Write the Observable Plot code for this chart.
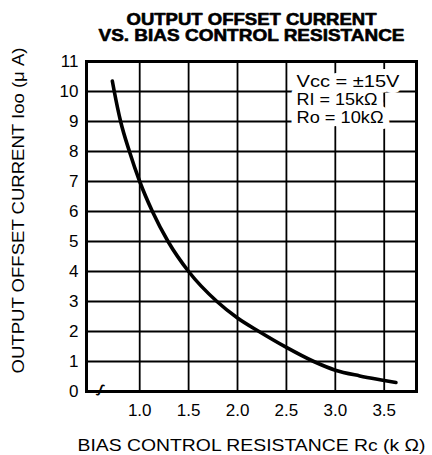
<!DOCTYPE html>
<html>
<head>
<meta charset="utf-8">
<script src="https://cdn.jsdelivr.net/npm/d3@7"></script>
<script src="https://cdn.jsdelivr.net/npm/@observablehq/plot@0.6"></script>
<style>
  html, body { margin: 0; padding: 0; background: #fff; }
  svg { display: block; }
</style>
</head>
<body>
<div id="chart"></div>
<script>
// Data
const rc  = [0.72, 0.74, 0.805, 0.895, 1.0, 1.13, 1.29, 1.5, 1.79, 2.0, 2.22, 2.5, 2.78, 3.0, 3.25, 3.5, 3.62];
const ioo = [10.35, 10.0, 9.0, 8.0, 7.0, 6.0, 5.0, 4.0, 3.0, 2.45, 2.0, 1.47, 1.0, 0.71, 0.52, 0.37, 0.3];

const xTicks = [1.0, 1.5, 2.0, 2.5, 3.0, 3.5];
const yTicks = [0, 1, 2, 3, 4, 5, 6, 7, 8, 9, 10, 11];
const yGrid  = [1, 2, 3, 4, 5, 6, 7, 8, 9, 10];

const titleLines = ["OUTPUT OFFSET CURRENT", "VS. BIAS CONTROL RESISTANCE"];
const xTitle = "BIAS CONTROL RESISTANCE Rc (k Ω)";
const yTitle = "OUTPUT OFFSET CURRENT Ioo (μ A)";
const notes = ["Vcc = ±15V", "RI = 15kΩ", "Ro = 10kΩ"];

const data = rc.map((x, i) => ({x, y: ioo[i]}));
const font = "'Liberation Sans', Arial, Helvetica, sans-serif";

const chart = Plot.plot({
  width: 432,
  height: 455,
  marginLeft: 86,
  marginRight: 16,
  marginTop: 61,
  marginBottom: 64,
  style: {fontFamily: font, fontSize: "17px", background: "#fff", color: "#000"},
  x: {domain: [0.456, 3.83]},
  y: {domain: [0, 11]},
  marks: [
    Plot.ruleX(xTicks, {stroke: "#000", strokeWidth: 1.8}),
    Plot.ruleY(yGrid, {stroke: "#000", strokeWidth: 1.8}),
    Plot.axisX({ticks: xTicks, tickFormat: d3.format(".1f"), tickSize: 0, tickPadding: 12, label: null, fontSize: 17}),
    Plot.axisY({ticks: yTicks, tickFormat: d3.format("d"), tickSize: 0, tickPadding: 8, label: null, fontSize: 17}),
    Plot.line(data, {x: "x", y: "y", curve: "monotone-x", stroke: "#000", strokeWidth: 3.6}),
    Plot.text([notes.join("\n")], {
      frameAnchor: "top-left", textAnchor: "start", lineAnchor: "top",
      dx: 210, dy: 13, lineHeight: 1.06, fontSize: 17,
      fill: "#000", stroke: "#fff", strokeWidth: 12, strokeLinejoin: "round"
    }),
    Plot.text(["∫"], {frameAnchor: "bottom-left", dx: 11, dy: 1, fontSize: 13, fontWeight: "bold",
      fill: "#000", stroke: "#fff", strokeWidth: 3, rotate: 20}),
    Plot.frame({stroke: "#000", strokeWidth: 3}),
    Plot.text([titleLines[0]], {frameAnchor: "top", dy: -42, lineAnchor: "middle", fontSize: 16.5, fontWeight: "bold", fill: "#000", stroke: "#000", strokeWidth: 0.6}),
    Plot.text([titleLines[1]], {frameAnchor: "top", dy: -25.5, lineAnchor: "middle", fontSize: 16.5, fontWeight: "bold", fill: "#000", stroke: "#000", strokeWidth: 0.6}),
    Plot.text([xTitle], {frameAnchor: "bottom", dy: 54.5, lineAnchor: "middle", fontSize: 17, fill: "#000"}),
    Plot.text([yTitle], {frameAnchor: "left", textAnchor: "middle", dx: -68, dy: -16, rotate: -90, lineAnchor: "middle", fontSize: 17, fill: "#000"})
  ]
});

document.getElementById("chart").appendChild(chart);

// Stretch text to match the reference widths
const widths = new Map([
  [titleLines[0], 250], [titleLines[1], 306],
  [xTitle, 348], [yTitle, 326],
  [notes[0], 103], [notes[1], 81], [notes[2], 87]
]);
d3.select(chart).selectAll("text, tspan").each(function() {
  const el = this;
  if (el.tagName === "text" && el.querySelector("tspan")) return;
  const w = widths.get(el.textContent);
  if (w) {
    el.setAttribute("textLength", w);
    el.setAttribute("lengthAdjust", "spacingAndGlyphs");
  }
});
</script>
</body>
</html>
